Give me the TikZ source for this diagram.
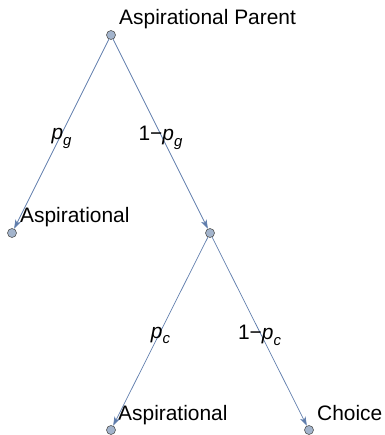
\documentclass[tikz,border=0pt]{standalone}
\usepackage{fontspec}
\setmainfont{Liberation Sans}
\usetikzlibrary{arrows.meta}
\definecolor{edgecol}{RGB}{95,125,172}
\definecolor{vertfill}{RGB}{163,180,204}
\definecolor{vertdraw}{RGB}{85,85,85}
\newcommand{\mysub}[1]{\raisebox{-0.28em}{\fontsize{15}{15}\selectfont\itshape #1}}
\begin{document}
\begin{tikzpicture}[x=1bp,y=-1bp,
  vert/.style={circle,draw=vertdraw,fill=vertfill,line width=0.6bp,minimum size=9bp,inner sep=0pt},
  vlabel/.style={anchor=base west,inner sep=0pt,font=\fontsize{21}{25}\selectfont},
  elabel/.style={midway,inner sep=0pt,font=\fontsize{21}{25}\selectfont},
  edge/.style={draw=edgecol,line width=0.7bp,-{Stealth[length=9bp,width=6bp,inset=2.5bp]}}]
\useasboundingbox (0,0) rectangle (384,435);
\node[vert] (r) at (111,35) {};
\node[vert] (l) at (12,233) {};
\node[vert] (m) at (210,233) {};
\node[vert] (bl) at (111,430) {};
\node[vert] (br) at (309,430) {};
\node[vlabel] (tr) at (119,25) {Aspirational Parent};
\node[vlabel] (tl) at (20,222) {Aspirational};
\node[vlabel] (tbl) at (118,420) {Aspirational};
\node[vlabel] (tbr) at (317,420) {Choice};
\draw[edge] (r) -- (l) node[elabel,yshift=-4bp] (e1) {\itshape p\mysub{g}};
\draw[edge] (r) -- (m) node[elabel,yshift=-4bp] (e2) {1−\itshape p\mysub{g}};
\draw[edge] (m) -- (bl) node[elabel,yshift=-4bp] (e3) {\itshape p\mysub{c}};
\draw[edge] (m) -- (br) node[elabel,yshift=-4bp] (e4) {1−\itshape p\mysub{c}};
\end{tikzpicture}
\end{document}
